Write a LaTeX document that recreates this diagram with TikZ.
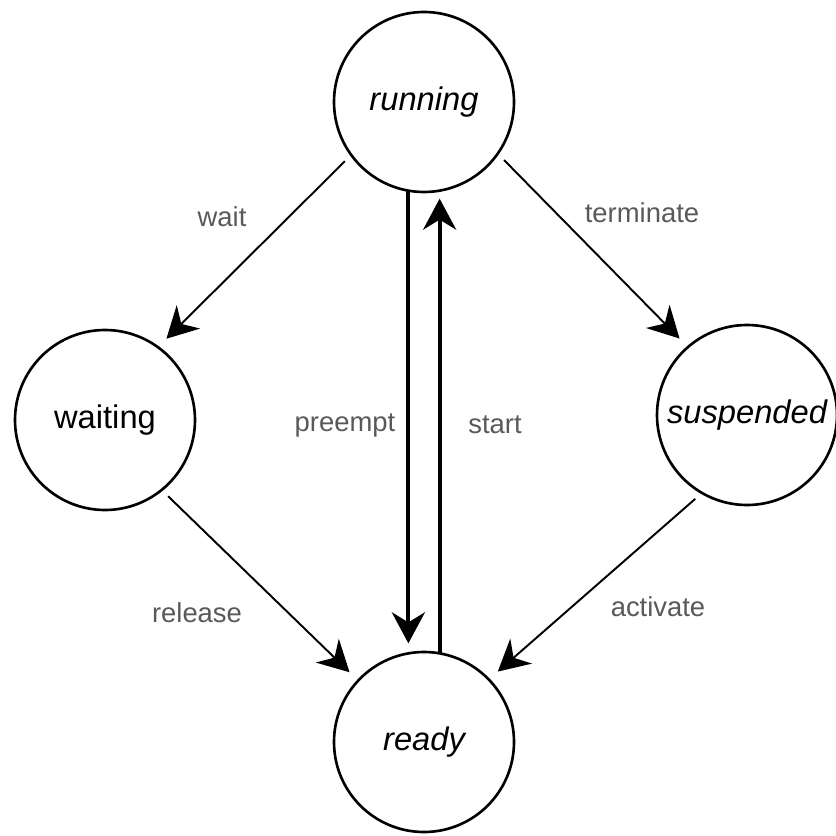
\documentclass[tikz,border=0pt]{standalone}
\usepackage{fontspec}
\setmainfont{Liberation Sans}
\usepackage{tikz}
\usetikzlibrary{arrows.meta, positioning}
\tikzset{
    state/.style={circle, draw, line width=1.5pt, minimum size=3.6cm, inner sep=0pt, outer sep=0pt, font=\fontsize{18.6}{22}\selectfont},
    lbl/.style={text=black!65, font=\fontsize{15.6}{19}\selectfont},
    arrow/.style={-{Stealth[length=0.62cm, width=0.66cm, inset=0.2cm]}, line width=1.1pt, shorten <=0.18cm, shorten >=0.24cm},
    thickarrow/.style={-{Stealth[length=0.62cm, width=0.66cm, inset=0.2cm]}, line width=2.2pt}
}
\begin{document}
\begin{tikzpicture}[node distance=12.8cm, on grid]
    \useasboundingbox (0,0) rectangle (16.72,16.70);

    % States
    \node[state] (running) at (8.48,14.66) {\itshape running};
    \node[state, below left=6.36cm and 6.38cm of running] (waiting) {waiting};
    \node[state, below right=6.26cm and 6.46cm of running] (suspended) {\itshape suspended};
    \node[state, below=of running] (ready) {\itshape ready};

    % Labels
    \node[lbl] (wait_lbl) at (4.44,12.36) {wait};
    \node[lbl] (terminate_lbl) at (12.84,12.44) {terminate};
    \node[lbl] (release_lbl) at (3.94,4.44) {release};
    \node[lbl] (activate_lbl) at (13.16,4.56) {activate};
    \node[lbl] (preempt_lbl) at (6.90,8.20) {preempt};
    \node[lbl] (start_lbl) at (9.90,8.20) {start};

    % Transitions
    \draw[arrow] (running.216) -- (waiting.54);
    \draw[arrow] (running.325) -- (suspended.131);
    \draw[arrow] (waiting.309) -- (ready.137);
    \draw[arrow] (suspended.240) -- (ready.44);
    \draw[thickarrow, shorten >=0.2cm] (running.260) -- (ready.100);
    \draw[thickarrow, shorten >=0.16cm] (ready.80) -- (running.280);
\end{tikzpicture}
\end{document}
